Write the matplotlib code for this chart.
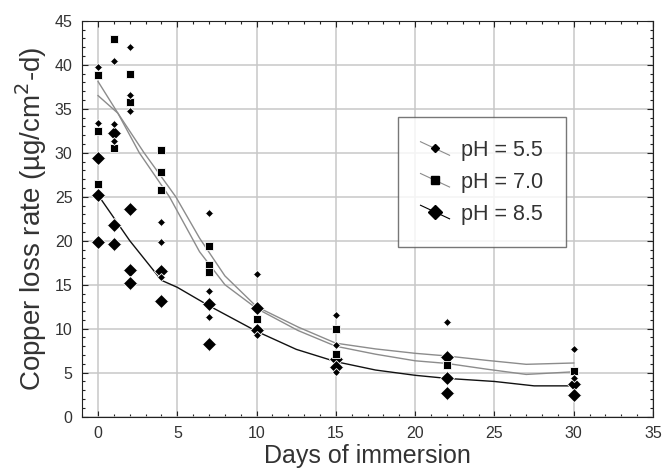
import matplotlib
matplotlib.use("Agg")
import matplotlib.pyplot as plt
from matplotlib.ticker import MultipleLocator
from matplotlib.lines import Line2D
from matplotlib.legend_handler import HandlerLine2D

plt.rcParams["font.family"] = ["Liberation Sans", "DejaVu Sans"]

# measured copper loss rate, µg/cm²·d, by immersion day
ph55_days = [0, 0, 1, 1, 1, 2, 2, 2, 4, 4, 4, 7, 7, 7, 10, 10, 15, 15, 15, 22, 30, 30]
ph55_rate = [39.7, 33.4, 40.4, 33.3, 31.3, 42.0, 36.6, 34.7, 22.1, 19.8, 15.9,
             23.2, 14.3, 11.3, 16.25, 9.3, 11.6, 8.2, 5.1, 10.8, 7.7, 4.4]

ph70_days = [0, 0, 0, 1, 1, 2, 2, 4, 4, 4, 7, 7, 7, 10, 15, 15, 22, 30]
ph70_rate = [38.9, 32.5, 26.4, 42.9, 30.5, 39.0, 35.8, 30.3, 27.8, 25.8,
             19.4, 17.2, 16.5, 11.1, 10.0, 7.1, 5.9, 5.2]

ph85_days = [0, 0, 0, 1, 1, 1, 2, 2, 2, 4, 4, 7, 7, 10, 10, 15, 15, 22, 22, 22, 30, 30]
ph85_rate = [29.4, 25.2, 19.8, 32.2, 21.8, 19.6, 23.6, 16.7, 15.2, 16.6, 13.2,
             12.8, 8.3, 12.4, 9.9, 6.5, 5.7, 6.75, 4.4, 2.7, 3.7, 2.5]

# fitted trend curves
fit55_days = [0, 1.25, 2.9, 4.9, 6.4, 8, 10, 12.6, 15, 17.5, 20, 22, 24.5, 27, 30]
fit55_rate = [36.5, 34.5, 30.0, 25.0, 20.3, 16.0, 12.5, 10.2, 8.35, 7.7, 7.2, 6.9, 6.4, 5.95, 6.1]
fit70_days = [0, 1.25, 2.6, 4.5, 6.4, 8, 10, 12.6, 15, 17.5, 20, 22, 24.5, 27, 30]
fit70_rate = [38.1, 34.5, 30.0, 25.0, 18.75, 15.0, 12.3, 9.8, 8.0, 7.1, 6.35, 6.05, 5.4, 4.8, 5.1]
fit85_days = [0, 2, 4, 5, 7, 10, 12.5, 15, 17.5, 20, 22, 25, 27.5, 30]
fit85_rate = [25.2, 20.0, 15.5, 14.7, 12.6, 9.7, 7.65, 6.25, 5.3, 4.7, 4.35, 4.0, 3.5, 3.5]

labels = ["pH = 5.5", "pH = 7.0", "pH = 8.5"]

TXT = "#333333"
GRAY = "#8c8c8c"


class SlantHandler(HandlerLine2D):
    """Legend key: short slanted line with the marker in its middle."""

    def create_artists(self, legend, orig_handle, xdescent, ydescent,
                       width, height, fontsize, trans):
        x0, x1 = -xdescent, -xdescent + width
        ym = (height - 2 * ydescent) / 2
        dy = 0.45 * height
        line = Line2D([x0, x1], [ym + dy, ym - dy], color=orig_handle.get_color(),
                      lw=orig_handle.get_linewidth(), transform=trans)
        mark = Line2D([(x0 + x1) / 2], [ym], ls="none",
                      marker=orig_handle.get_marker(),
                      ms=orig_handle.get_markersize(), color="black",
                      transform=trans)
        return [line, mark]


fig = plt.figure(figsize=(6.63, 4.74), dpi=100)
ax = fig.add_axes([0.124, 0.121, 0.861, 0.835])

ax.plot(fit55_days, fit55_rate, color=GRAY, lw=1.0, zorder=2)
ax.plot(fit70_days, fit70_rate, color=GRAY, lw=1.0, zorder=2)
ax.plot(fit85_days, fit85_rate, color="#111111", lw=1.0, zorder=2)

mk = dict(ls="none", color="black", mec="white", mew=0.6, zorder=4)
ax.plot(ph85_days, ph85_rate, marker="D", ms=7.5, **mk)
ax.plot(ph70_days, ph70_rate, marker="s", ms=5.5, **mk)
ax.plot(ph55_days, ph55_rate, marker="D", ms=4.2, **mk)

h55 = Line2D([], [], color=GRAY, lw=0.8, marker="D", ms=4.2)
h70 = Line2D([], [], color=GRAY, lw=0.8, marker="s", ms=5.5)
h85 = Line2D([], [], color="black", lw=0.8, marker="D", ms=7.5)
leg = ax.legend([h55, h70, h85], labels,
                loc="upper left", bbox_to_anchor=(0.553, 0.756),
                fontsize=15.5, frameon=True, fancybox=False, handlelength=1.35,
                borderpad=1.05, labelspacing=0.5, handletextpad=0.55,
                borderaxespad=0, handler_map={Line2D: SlantHandler()})
leg.get_frame().set_edgecolor("#555555")
leg.get_frame().set_linewidth(1.0)
for t in leg.get_texts():
    t.set_color(TXT)

ax.set_xlim(-1, 35)
ax.set_ylim(0, 45)
ax.xaxis.set_major_locator(MultipleLocator(5))
ax.xaxis.set_minor_locator(MultipleLocator(1))
ax.yaxis.set_major_locator(MultipleLocator(5))
ax.yaxis.set_minor_locator(MultipleLocator(1))
ax.grid(True, which="major", color="#c8c8c8", lw=1.1)
ax.set_axisbelow(True)
ax.tick_params(which="both", direction="in", top=True, right=True,
               colors="#222222", labelcolor=TXT, labelsize=11.5, width=0.8)
ax.tick_params(which="major", length=4, pad=7)
ax.tick_params(which="minor", length=2)
for s in ax.spines.values():
    s.set_color("#222222")

ax.set_xlabel("Days of immersion", fontsize=18, color=TXT, labelpad=2)
ax.set_ylabel("Copper loss rate (µg/cm$^2$-d)", fontsize=20, color=TXT, labelpad=4)

fig.savefig("out.png", dpi=100)
